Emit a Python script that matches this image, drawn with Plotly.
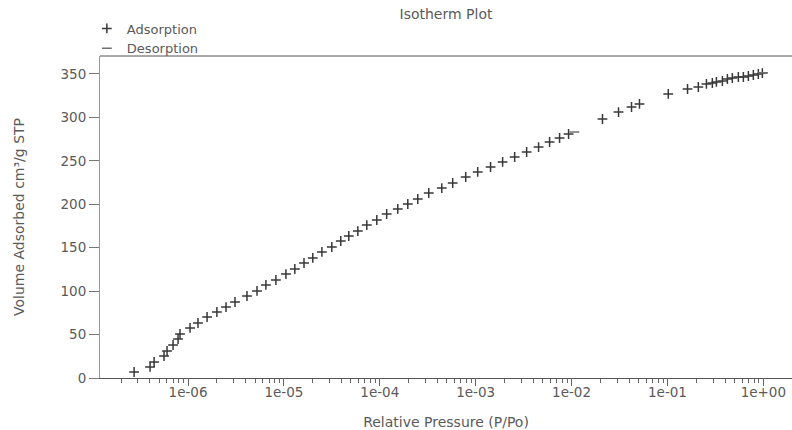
import plotly.graph_objects as go

# Adsorption branch (relative pressure, volume adsorbed cm3/g STP)
ads_p = [2.74e-7, 4.02e-7, 4.43e-7, 5.62e-7, 6.04e-7, 6.98e-7, 7.87e-7, 8.25e-7,
         1.05e-6, 1.27e-6, 1.58e-6, 2.0e-6, 2.49e-6, 3.09e-6, 4.12e-6, 5.24e-6,
         6.49e-6, 8.25e-6, 1.05e-5, 1.30e-5, 1.62e-5, 2.0e-5, 2.49e-5, 3.16e-5,
         3.92e-5, 4.75e-5, 5.90e-5, 7.32e-5, 9.31e-5, 1.18e-4, 1.54e-4, 1.96e-4,
         2.49e-4, 3.24e-4, 4.43e-4, 5.76e-4, 7.87e-4, 1.05e-3, 1.43e-3, 1.91e-3,
         2.55e-3, 3.40e-3, 4.53e-3, 5.90e-3, 7.50e-3, 9.31e-3, 2.10e-2,
         3.09e-2, 4.22e-2, 5.11e-2, 0.102, 0.162, 0.210, 0.255, 0.294, 0.324,
         0.374, 0.422, 0.475, 0.549, 0.619, 0.698, 0.787, 0.887, 0.977]
ads_v = [6.9, 12.7, 18.4, 25.3, 31.1, 38.0, 44.9, 50.7,
         57.6, 63.3, 70.2, 76.0, 81.7, 87.5, 94.4, 100.2,
         107.1, 112.8, 119.7, 125.5, 132.4, 138.2, 145.1, 150.8,
         157.7, 163.5, 169.2, 176.1, 181.9, 188.8, 194.6, 200.3,
         206.1, 213.0, 218.7, 224.5, 231.4, 237.2, 242.9, 248.7,
         254.4, 260.2, 265.9, 271.7, 276.3, 280.9, 298.2,
         306.2, 312.0, 315.5, 327.0, 332.7, 335.0, 338.5, 339.6, 340.8,
         341.9, 344.2, 345.4, 346.5, 346.5, 347.7, 348.8, 350.0, 351.1]

# Desorption branch
des_p = [1.07e-2, 0.995]
des_v = [283.2, 351.3]

x_tickvals = [1e-6, 1e-5, 1e-4, 1e-3, 1e-2, 1e-1, 1e0]
x_ticktext = ["1e-06", "1e-05", "1e-04", "1e-03", "1e-02", "1e-01", "1e+00"]
y_tickvals = [0, 50, 100, 150, 200, 250, 300, 350]

FONT = "DejaVu Sans, Verdana, sans-serif"
TXT = "#5a5a5a"
MARK = "#383838"

fig = go.Figure()
fig.add_trace(go.Scatter(
    x=ads_p, y=ads_v, mode="markers", name="Adsorption",
    marker=dict(symbol="cross-thin", size=7, line=dict(width=1.5, color=MARK), color=MARK),
))
fig.add_trace(go.Scatter(
    x=des_p, y=des_v, mode="markers", name="Desorption",
    marker=dict(symbol="line-ew", size=7, line=dict(width=1.5, color="#707070"), color="#707070"),
))

fig.update_layout(
    width=792, height=430,
    margin=dict(l=100, r=0, t=56, b=52),
    paper_bgcolor="white", plot_bgcolor="white",
    font=dict(family=FONT, size=14, color=TXT),
    title=dict(text="Isotherm Plot", x=0.5, xref="paper", xanchor="center",
               y=0.967, yref="container", yanchor="middle",
               font=dict(family=FONT, size=14, color=TXT)),
    showlegend=True,
    legend=dict(x=-0.019, y=1.132, xanchor="left", yanchor="top",
                bgcolor="rgba(0,0,0,0)", font=dict(family=FONT, size=13, color=TXT),
                itemwidth=30, tracegroupgap=0),
    xaxis=dict(
        type="log", range=[-6.918, 0.299],
        tickvals=x_tickvals, ticktext=x_ticktext,
        ticks="outside", ticklen=7, tickcolor="#666666", tickwidth=1,
        ticklabelstandoff=-5,
        showline=True, linecolor="#555555", linewidth=1,
        showgrid=False, zeroline=False,
        minor=dict(ticks="outside", ticklen=4, tickcolor="#666666", dtick="D1", showgrid=False),
        title=dict(text="Relative Pressure (P/Po)", standoff=17,
                   font=dict(family=FONT, size=14, color=TXT)),
        tickfont=dict(family=FONT, size=13.5, color=TXT),
    ),
    yaxis=dict(
        range=[0, 370.7], tickvals=y_tickvals,
        ticks="outside", ticklen=10, tickcolor="#777777", tickwidth=1,
        showline=True, linecolor="#999999", linewidth=1,
        showgrid=False, zeroline=False,
        title=dict(text="Volume Adsorbed cm³/g STP", standoff=32,
                   font=dict(family=FONT, size=14, color=TXT)),
        tickfont=dict(family=FONT, size=13.5, color=TXT),
    ),
)

# top frame line
fig.add_shape(type="line", xref="paper", yref="paper", x0=0, x1=1, y0=1, y1=1,
              line=dict(color="#555555", width=1))

fig.write_html("out.html")
